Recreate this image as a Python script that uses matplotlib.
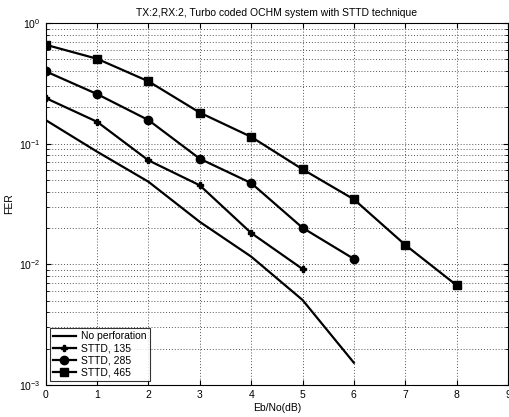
import matplotlib
matplotlib.use("Agg")
import matplotlib.pyplot as plt
import numpy as np
from matplotlib.ticker import LogLocator, NullFormatter

plt.rcParams['font.family'] = ['Liberation Sans', 'DejaVu Sans']
plt.rcParams['mathtext.fontset'] = 'custom'
plt.rcParams['mathtext.rm'] = 'Liberation Sans'

x_nop = [0, 1, 2, 3, 4, 5, 6]
fer_nop = [0.157, 0.0859, 0.0484, 0.0225, 0.0116, 0.00507, 0.00153]
x_135 = [0, 1, 2, 3, 4, 5]
fer_135 = [0.239, 0.152, 0.0728, 0.0452, 0.0182, 0.00916]
x_285 = [0, 1, 2, 3, 4, 5, 6]
fer_285 = [0.398, 0.258, 0.157, 0.0751, 0.0472, 0.0201, 0.0111]
x_465 = [0, 1, 2, 3, 4, 5, 6, 7, 8]
fer_465 = [0.661, 0.506, 0.329, 0.181, 0.114, 0.0614, 0.0346, 0.0145, 0.00671]

labels = ['No perforation', 'STTD, 135', 'STTD, 285', 'STTD, 465']
title = 'TX:2,RX:2, Turbo coded OCHM system with STTD technique'

fig = plt.figure(figsize=(5.10, 4.17), dpi=100)
ax = fig.add_axes([0.0896, 0.0767, 0.9064, 0.868])

ax.semilogy(x_nop, fer_nop, '-', color='black', lw=1.6, label=labels[0])
ax.semilogy(x_135, fer_135, '-', color='black', lw=1.6, marker='P', ms=5, label=labels[1])
ax.semilogy(x_285, fer_285, '-', color='black', lw=1.6, marker='o', ms=6, label=labels[2])
ax.semilogy(x_465, fer_465, '-', color='black', lw=1.6, marker='s', ms=6, label=labels[3])

ax.set_xlim(0, 9)
ax.set_ylim(1e-3, 1)
ax.set_xticks(range(10))
ax.yaxis.set_major_locator(LogLocator(base=10, numticks=10))
ax.yaxis.set_minor_locator(LogLocator(base=10, subs=np.arange(2, 10), numticks=100))
ax.yaxis.set_minor_formatter(NullFormatter())
grid_style = dict(linestyle=(0, (1, 2)), color='#555555', lw=0.7)
ax.grid(True, which='major', **grid_style)
ax.grid(True, which='minor', axis='y', **grid_style)
ax.tick_params(direction='in', which='both', top=True, right=True, labelsize=7.5)
ax.tick_params(which='minor', length=2)
ax.set_xlabel('Eb/No(dB)', fontsize=7.5, labelpad=2)
ax.set_ylabel('FER', fontsize=7.5)
ax.set_title(title, fontsize=7.5, pad=5)
for s in ax.spines.values():
    s.set_linewidth(0.8)

leg = ax.legend(loc='lower left', fontsize=7.5, frameon=True, fancybox=False,
                edgecolor='black', handlelength=2.2, borderpad=0.3,
                labelspacing=0.2, handletextpad=0.5, borderaxespad=0.4)
leg.get_frame().set_linewidth(0.8)

fig.savefig('out.png', dpi=100)
